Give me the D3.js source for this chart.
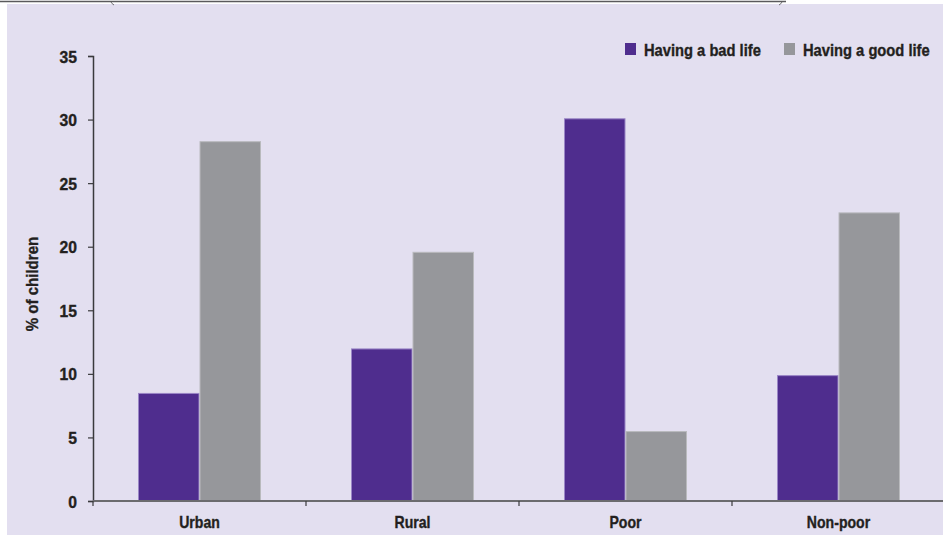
<!DOCTYPE html>
<html>
<head>
<meta charset="utf-8">
<script src="https://cdn.jsdelivr.net/npm/d3@7"></script>
<style>
  html, body { margin: 0; padding: 0; background: #ffffff; }
  svg { display: block; }
  text { font-family: "Liberation Sans", Arial, sans-serif; font-weight: bold; fill: #231f20;
         stroke: #231f20; stroke-width: 0.35px; }
</style>
</head>
<body>
<svg id="chart" width="943" height="535"></svg>
<script>
// Share of children describing their life, by area and poverty status
const categories = ["Urban", "Rural", "Poor", "Non-poor"];
const seriesNames = ["Having a bad life", "Having a good life"];
const badLife = [8.5, 12.0, 30.1, 9.9];
const goodLife = [28.3, 19.6, 5.5, 22.7];
const yTicks = [0, 5, 10, 15, 20, 25, 30, 35];
const seriesColors = ["#4f2d8e", "#96979b"];
const seriesStrokes = ["#9a86c6", "#b9babd"];

const svg = d3.select("#chart");
const W = 943, H = 535;

// places a horizontally squeezed bold label anchored at (x, y)
function narrowText(parent, x, y, str, size, anchor, sx, rotate) {
  const g = parent.append("g")
    .attr("transform", `translate(${x},${y})${rotate ? ` rotate(${rotate})` : ""} scale(${sx},1)`);
  g.append("text").attr("font-size", size).attr("text-anchor", anchor || "start").text(str);
  return g;
}

// panel background
svg.append("rect").attr("x", 7).attr("y", 4).attr("width", W - 7).attr("height", H - 4)
  .attr("fill", "#e3dff0");

// rule along the very top edge
svg.append("line").attr("x1", 0).attr("x2", 786).attr("y1", 1.5).attr("y2", 1.5)
  .attr("stroke", "#5a5a5c").attr("stroke-width", 1.5);
svg.append("path").attr("d", "M111,2 Q112,4 114,5").attr("fill", "none").attr("stroke", "#6b6b6e").attr("stroke-width", 1);
svg.append("path").attr("d", "M782,2 Q781,4 779,5").attr("fill", "none").attr("stroke", "#6b6b6e").attr("stroke-width", 1);

const x0 = d3.scaleBand().domain(categories).range([93, 945]).paddingInner(0).paddingOuter(0);
const y = d3.scaleLinear().domain([0, 35]).range([501, 56]);
const groupWidth = 123;
const x1 = d3.scaleBand().domain(seriesNames).range([0, groupWidth]).padding(0);

const data = categories.map((c, i) => ({ cat: c, values: [badLife[i], goodLife[i]] }));

// bars
const groups = svg.append("g").selectAll("g").data(data).join("g")
  .attr("transform", d => `translate(${x0(d.cat) + (x0.bandwidth() - groupWidth) / 2},0)`);
groups.selectAll("rect").data(d => d.values.map((v, j) => ({ v, j })))
  .join("rect")
  .attr("x", d => x1(seriesNames[d.j]) + 0.5)
  .attr("width", x1.bandwidth() - 1)
  .attr("y", d => y(d.v) + 0.5)
  .attr("height", d => y(0) - y(d.v) - 0.5)
  .attr("fill", d => seriesColors[d.j])
  .attr("stroke", d => seriesStrokes[d.j])
  .attr("stroke-width", 1);

// y axis
const yAxis = svg.append("g").attr("transform", "translate(93,0)")
  .call(d3.axisLeft(y).tickValues(yTicks).tickSize(5).tickFormat(""));
yAxis.select(".domain").attr("stroke", "#3a3a3c").attr("stroke-width", 1.5);
yAxis.selectAll(".tick line").attr("stroke", "#3a3a3c").attr("stroke-width", 1.2);
yAxis.selectAll(".tick").each(function (d) {
  narrowText(d3.select(this), -16, 6, d3.format("d")(d), 16, "end", 0.98);
});

// x axis
const xAxis = svg.append("g").attr("transform", "translate(0,501)");
xAxis.append("line").attr("x1", 93).attr("x2", W).attr("y1", 0).attr("y2", 0)
  .attr("stroke", "#6b6b6e").attr("stroke-width", 2);
const boundaries = categories.map(c => x0(c)).concat([x0(categories[categories.length - 1]) + x0.bandwidth()]);
xAxis.selectAll("line.tk").data(boundaries).join("line").attr("class", "tk")
  .attr("x1", d => d).attr("x2", d => d).attr("y1", 0).attr("y2", 5)
  .attr("stroke", "#3a3a3c").attr("stroke-width", 1.2);
categories.forEach(c => narrowText(xAxis, x0(c) + x0.bandwidth() / 2, 27, c, 16, "middle", 0.88));

// y axis title
narrowText(svg, 38, 284, "% of children", 16, "middle", 0.94, -90);

// legend
const legendX = [625, 784];
seriesNames.forEach((name, i) => {
  const g = svg.append("g").attr("transform", `translate(${legendX[i]},43)`);
  g.append("rect").attr("width", 11).attr("height", 12).attr("fill", seriesColors[i]);
  narrowText(g, 19, 13, name, 16, "start", 0.92);
});
</script>
</body>
</html>
